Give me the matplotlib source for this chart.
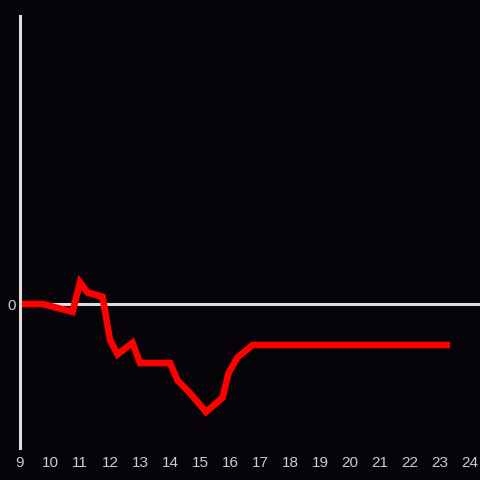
import matplotlib
matplotlib.use("Agg")
import matplotlib.pyplot as plt

# time of day (hours) and value
hours = [9.0, 9.75, 10.75, 11.0, 11.25, 11.75, 12.0, 12.25, 12.75, 13.0,
         14.0, 14.25, 14.67, 15.2, 15.75, 15.95, 16.25, 16.75, 23.33]
values = [0.0, 0.0, -0.055, 0.15, 0.08, 0.05, -0.25, -0.35, -0.27, -0.41,
          -0.41, -0.53, -0.62, -0.75, -0.65, -0.48, -0.37, -0.285, -0.285]
xticks = list(range(9, 25))

bg = "#060408"
fg = "#dddddd"

fig = plt.figure(figsize=(4.8, 4.8), dpi=100, facecolor=bg)
ax = fig.add_axes([20 / 480, 32 / 480, 460 / 480, 432 / 480])
ax.set_facecolor(bg)

ax.axhline(0, color=fg, lw=2.2, zorder=1)
ax.plot(hours, values, color="#ff0000", lw=4.8, solid_joinstyle="miter",
        solid_capstyle="butt", zorder=2)

ax.set_xlim(9, 24.33)
ax.set_ylim(-1, 2)

for s in ["top", "right", "bottom"]:
    ax.spines[s].set_visible(False)
ax.spines["left"].set_color(fg)
ax.spines["left"].set_linewidth(2.2)

ax.set_xticks(xticks)
ax.set_xticklabels([str(t) for t in xticks])
ax.set_yticks([0])
ax.set_yticklabels(["0"])
ax.tick_params(length=0, colors="#cccccc", labelsize=11, pad=3)
ax.tick_params(axis="x", pad=6)
for lab in ax.get_xticklabels() + ax.get_yticklabels():
    lab.set_family("Liberation Sans")

fig.savefig("out.png", dpi=100, facecolor=bg)
